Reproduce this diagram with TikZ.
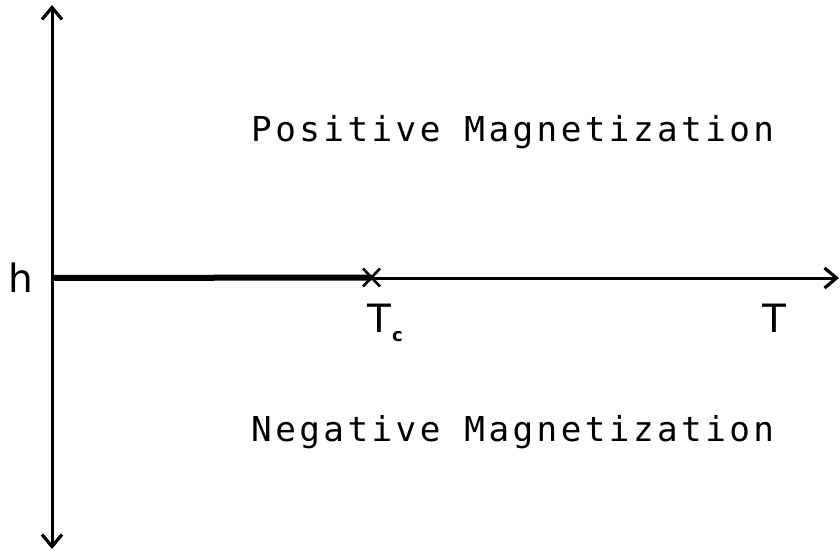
\documentclass[tikz,border=0pt]{standalone}
\usepackage{fontspec}
\setmainfont{DejaVu Sans}
\newfontfamily\spaced[LetterSpace=10]{DejaVu Sans Mono}
\usetikzlibrary{arrows.meta,calc}
\tikzset{
  barb/.tip={Straight Barb[length=12pt,width=20pt,line width=3.2pt]},
  axis/.style={line width=3pt, -{barb}},
  axisboth/.style={line width=3pt, {barb}-{barb}},
  lbl/.style={inner sep=0pt, font=\fontsize{39}{39}\selectfont},
  region/.style={inner sep=0pt, anchor=base west, font=\fontsize{34.3}{35}\selectfont\spaced},
}
\begin{document}
\begin{tikzpicture}[x=1pt,y=-1pt]
\useasboundingbox (0,0) rectangle (840,551);
\coordinate (top) at (52,5);
\coordinate (bot) at (52,549);
\coordinate (o) at (52,278);
\coordinate (right) at (839,278);
\coordinate (tc) at (371.5,277.5);
\draw[axisboth] (top) -- (bot);
\draw[axis] (o) -- (right);
\draw[line width=6pt] (o) -- (tc);
\draw[line width=2.6pt] ($(tc)+(-8.5,-9)$) -- ($(tc)+(8.5,9)$) ($(tc)+(-8.5,9)$) -- ($(tc)+(8.5,-9)$);
\node[lbl, anchor=south] (h) at (21,293) {h};
\node[lbl, anchor=base] (Tc) at (379,332) {T};
\node[inner sep=0pt, anchor=base west, font=\fontsize{18}{18}\selectfont\bfseries] (c) at (392,341) {c};
\node[lbl, anchor=base] (T) at (774,332) {T};
\node[region] (pos) at (251,141) {Positive Magnetization};
\node[region] (neg) at (251,441) {Negative Magnetization};
\end{tikzpicture}
\end{document}
